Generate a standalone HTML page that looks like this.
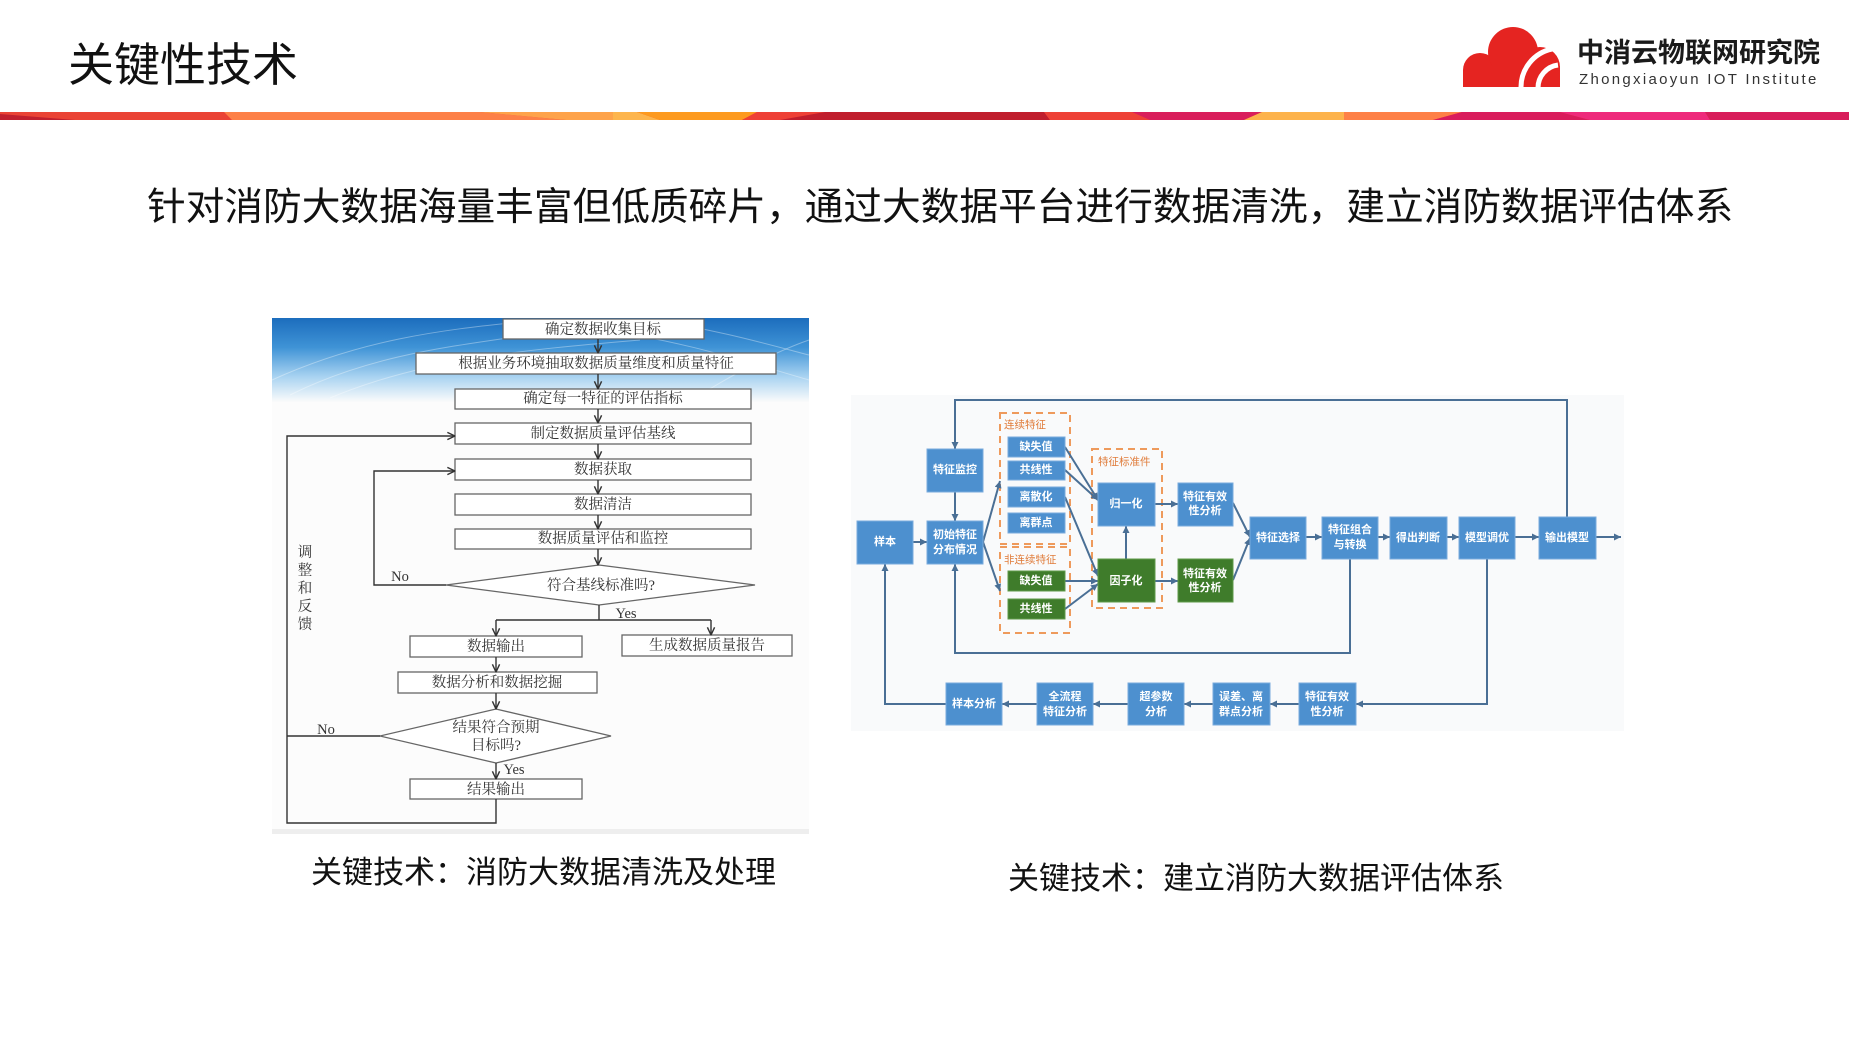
<!DOCTYPE html>
<html><head><meta charset="utf-8">
<style>
html,body{margin:0;padding:0;background:#fff;}
body{width:1849px;height:1039px;position:relative;overflow:hidden;font-family:"Liberation Sans","Noto Sans CJK SC",sans-serif;}
.t{position:absolute;white-space:nowrap;color:#111;font-family:"Liberation Sans","Noto Sans CJK SC",sans-serif;}
</style></head>
<body>
<svg width="1849" height="1039" viewBox="0 0 1849 1039" style="position:absolute;left:0;top:0" xmlns="http://www.w3.org/2000/svg">
<defs>
<linearGradient id="band" x1="0" y1="0" x2="0" y2="1">
<stop offset="0" stop-color="#1c6dbd"/>
<stop offset="0.35" stop-color="#3f93d6"/>
<stop offset="0.7" stop-color="#a9d3f1"/>
<stop offset="1" stop-color="#fbfbfb"/>
</linearGradient>
<marker id="la" viewBox="0 0 10 10" refX="9.5" refY="5" markerWidth="9" markerHeight="9" orient="auto" markerUnits="userSpaceOnUse">
<path d="M1,1 L9.5,5 L1,9" fill="none" stroke="#333" stroke-width="1.6"/>
</marker>
<marker id="ra" viewBox="0 0 10 10" refX="10" refY="5" markerWidth="7" markerHeight="7" orient="auto" markerUnits="userSpaceOnUse">
<path d="M0,0 L10,5 L0,10 z" fill="#4a6f95"/>
</marker>
</defs>

<!-- header color bar -->
<rect x="0" y="112" width="1849" height="8" fill="#ea4335"/>
<polygon points="0,114 0,120 75,120" fill="#c0202e"/>
<polygon points="224,112 480,112 566,120 232,120" fill="#fd8047"/>
<polygon points="480,112 613,112 613,120 566,120" fill="#fea34a"/>
<polygon points="613,112 637,112 660,120 613,120" fill="#fdb54d"/>
<polygon points="637,112 757,112 742,120 660,120" fill="#fd9a1f"/>
<polygon points="757,112 825,112 780,120 742,120" fill="#ee4036"/>
<polygon points="825,112 1044,112 1050,120 780,120" fill="#c01e2d"/>
<polygon points="1044,112 1132,112 1150,120 1050,120" fill="#ee4136"/>
<polygon points="1132,112 1262,112 1244,120 1150,120" fill="#d91e5b"/>
<polygon points="1262,112 1344,112 1344,120 1244,120" fill="#fdb34b"/>
<polygon points="1344,112 1462,112 1433,120 1344,120" fill="#fe8046"/>
<polygon points="1462,112 1560,112 1590,120 1433,120" fill="#d91c5c"/>
<polygon points="1560,112 1705,112 1710,120 1590,120" fill="#ee2a7b"/>
<polygon points="1705,112 1849,112 1849,120 1710,120" fill="#d81d5a"/>

<!-- logo cloud -->
<g fill="#e52421">
<circle cx="1480" cy="70" r="17"/>
<circle cx="1513" cy="52" r="25"/>
<circle cx="1540" cy="67" r="20"/>
<rect x="1480" y="66" width="80" height="21"/>
<rect x="1463" y="70" width="30" height="17"/>
</g>
<path d="M1521,88 A39,39 0 0 1 1552,49" fill="none" stroke="#fff" stroke-width="5"/>
<path d="M1538,88 A23,23 0 0 1 1558,65" fill="none" stroke="#fff" stroke-width="5"/>

<!-- ============ LEFT DIAGRAM ============ -->
<rect x="272" y="318" width="537" height="516" fill="#fcfcfc"/>
<rect x="272" y="318" width="537" height="84" fill="url(#band)"/>
<g fill="none" stroke="#ffffff" stroke-opacity="0.35" stroke-width="1">
<path d="M272,380 C360,340 440,330 520,322"/>
<path d="M290,395 C380,350 470,345 560,330"/>
<path d="M330,398 C420,360 520,350 640,340"/>
<path d="M600,330 C680,340 740,360 809,380"/>
<path d="M650,320 C720,330 770,345 809,355"/>
<path d="M700,395 C740,370 780,350 809,340"/>
</g>
<rect x="272" y="829" width="537" height="5" fill="#eeeeee"/>

<g fill="#fff" stroke="#666" stroke-width="1.3">
<rect x="503" y="319" width="201" height="20"/>
<rect x="416" y="353" width="360" height="21"/>
<rect x="455" y="389" width="296" height="20"/>
<rect x="455" y="423" width="296" height="21"/>
<rect x="455" y="459" width="296" height="21"/>
<rect x="455" y="494" width="296" height="21"/>
<rect x="455" y="529" width="296" height="20"/>
<polygon points="446,585 599,565 755,585 599,605"/>
<rect x="410" y="636" width="172" height="21"/>
<rect x="622" y="635" width="170" height="21"/>
<rect x="398" y="672" width="199" height="21"/>
<polygon points="380,736 496,709 611,736 496,763"/>
<rect x="410" y="779" width="172" height="20"/>
</g>

<g stroke="#333" stroke-width="1.4" fill="none">
<line x1="598" y1="339" x2="598" y2="353" marker-end="url(#la)"/>
<line x1="598" y1="374" x2="598" y2="389" marker-end="url(#la)"/>
<line x1="598" y1="409" x2="598" y2="423" marker-end="url(#la)"/>
<line x1="598" y1="444" x2="598" y2="459" marker-end="url(#la)"/>
<line x1="598" y1="480" x2="598" y2="494" marker-end="url(#la)"/>
<line x1="598" y1="515" x2="598" y2="529" marker-end="url(#la)"/>
<line x1="598" y1="549" x2="598" y2="565" marker-end="url(#la)"/>
<polyline points="446,585 374,585 374,471 455,471" marker-end="url(#la)"/>
<line x1="599" y1="605" x2="599" y2="620"/>
<line x1="496" y1="620" x2="711" y2="620"/>
<line x1="496" y1="620" x2="496" y2="636" marker-end="url(#la)"/>
<line x1="711" y1="620" x2="711" y2="635" marker-end="url(#la)"/>
<line x1="496" y1="657" x2="496" y2="672" marker-end="url(#la)"/>
<line x1="496" y1="693" x2="496" y2="709" marker-end="url(#la)"/>
<line x1="496" y1="763" x2="496" y2="779" marker-end="url(#la)"/>
<polyline points="496,799 496,823 287,823 287,436 455,436" marker-end="url(#la)"/>
<line x1="287" y1="736" x2="380" y2="736"/>
</g>

<g font-family="'Liberation Serif','Noto Serif CJK SC',serif" font-size="14.5" fill="#333" text-anchor="middle" dominant-baseline="central">
<text x="603" y="330">确定数据收集目标</text>
<text x="596" y="364">根据业务环境抽取数据质量维度和质量特征</text>
<text x="603" y="399">确定每一特征的评估指标</text>
<text x="603" y="434">制定数据质量评估基线</text>
<text x="603" y="470">数据获取</text>
<text x="603" y="505">数据清洁</text>
<text x="603" y="539">数据质量评估和监控</text>
<text x="601" y="586">符合基线标准吗?</text>
<text x="496" y="647">数据输出</text>
<text x="707" y="646">生成数据质量报告</text>
<text x="497" y="683">数据分析和数据挖掘</text>
<text x="496" y="728">结果符合预期</text>
<text x="496" y="746">目标吗?</text>
<text x="496" y="790">结果输出</text>
<text x="400" y="577">No</text>
<text x="326" y="730">No</text>
<text x="626" y="614">Yes</text>
<text x="514" y="770">Yes</text>
<text x="305" y="553">调</text>
<text x="305" y="571">整</text>
<text x="305" y="589">和</text>
<text x="305" y="607">反</text>
<text x="305" y="625">馈</text>
</g>

<!-- ============ RIGHT DIAGRAM ============ -->
<rect x="851" y="395" width="773" height="336" fill="#f9fafb"/>

<!-- orange dashed groups -->
<g fill="none" stroke="#ee9a5c" stroke-width="2" stroke-dasharray="7,5">
<rect x="1000" y="413" width="70" height="131"/>
<rect x="1000" y="547" width="70" height="86"/>
<rect x="1092" y="449" width="70" height="159"/>
</g>
<g font-family="'Liberation Sans','Noto Sans CJK SC',sans-serif" font-size="10.5" fill="#e07b39">
<text x="1004" y="428">连续特征</text>
<text x="1004" y="563">非连续特征</text>
<text x="1098" y="465">特征标准件</text>
</g>

<!-- connectors -->
<g stroke="#4a6f95" stroke-width="2" fill="none">
<polyline points="1567,517 1567,400 955,400 955,449" marker-end="url(#ra)"/>
<line x1="913" y1="542" x2="927" y2="542" marker-end="url(#ra)"/>
<line x1="955" y1="492" x2="955" y2="521" marker-end="url(#ra)"/>
<line x1="983" y1="542" x2="1000" y2="481" marker-end="url(#ra)"/>
<line x1="983" y1="542" x2="1000" y2="591" marker-end="url(#ra)"/>
<line x1="1065" y1="447" x2="1098" y2="500" marker-end="url(#ra)"/>
<line x1="1065" y1="470" x2="1098" y2="500" marker-end="url(#ra)"/>
<line x1="1065" y1="497" x2="1098" y2="576" marker-end="url(#ra)"/>
<line x1="1065" y1="581" x2="1098" y2="581" marker-end="url(#ra)"/>
<line x1="1065" y1="609" x2="1098" y2="584" marker-end="url(#ra)"/>
<line x1="1126" y1="559" x2="1126" y2="526" marker-end="url(#ra)"/>
<line x1="1155" y1="504" x2="1178" y2="504" marker-end="url(#ra)"/>
<line x1="1155" y1="581" x2="1178" y2="581" marker-end="url(#ra)"/>
<line x1="1233" y1="503" x2="1250" y2="537" marker-end="url(#ra)"/>
<line x1="1233" y1="580" x2="1250" y2="538" marker-end="url(#ra)"/>
<line x1="1306" y1="537" x2="1322" y2="537" marker-end="url(#ra)"/>
<line x1="1378" y1="537" x2="1390" y2="537" marker-end="url(#ra)"/>
<line x1="1447" y1="537" x2="1459" y2="537" marker-end="url(#ra)"/>
<line x1="1515" y1="537" x2="1539" y2="537" marker-end="url(#ra)"/>
<line x1="1596" y1="537" x2="1621" y2="537" marker-end="url(#ra)"/>
<polyline points="1350,559 1350,653 955,653 955,564" marker-end="url(#ra)"/>
<polyline points="1487,559 1487,704 1356,704" marker-end="url(#ra)"/>
<line x1="1299" y1="704" x2="1270" y2="704" marker-end="url(#ra)"/>
<line x1="1213" y1="704" x2="1184" y2="704" marker-end="url(#ra)"/>
<line x1="1128" y1="704" x2="1093" y2="704" marker-end="url(#ra)"/>
<line x1="1037" y1="704" x2="1002" y2="704" marker-end="url(#ra)"/>
<polyline points="946,704 885,704 885,564" marker-end="url(#ra)"/>
</g>

<!-- blue boxes -->
<g fill="#4d90cf" stroke="#79abdc" stroke-width="1">
<rect x="927" y="449" width="56" height="43"/>
<rect x="857" y="521" width="56" height="43"/>
<rect x="927" y="521" width="56" height="43"/>
<rect x="1008" y="437" width="57" height="20"/>
<rect x="1008" y="461" width="57" height="19"/>
<rect x="1008" y="487" width="57" height="20"/>
<rect x="1008" y="513" width="57" height="20"/>
<rect x="1098" y="483" width="57" height="43"/>
<rect x="1178" y="483" width="55" height="43"/>
<rect x="1250" y="517" width="56" height="42"/>
<rect x="1322" y="517" width="56" height="42"/>
<rect x="1390" y="517" width="57" height="42"/>
<rect x="1459" y="517" width="56" height="42"/>
<rect x="1539" y="517" width="57" height="42"/>
<rect x="946" y="683" width="56" height="42"/>
<rect x="1037" y="683" width="56" height="42"/>
<rect x="1128" y="683" width="56" height="42"/>
<rect x="1213" y="683" width="57" height="42"/>
<rect x="1299" y="683" width="57" height="42"/>
</g>
<!-- green boxes -->
<g fill="#3f7c2b" stroke="#5f9a48" stroke-width="1">
<rect x="1008" y="571" width="57" height="20"/>
<rect x="1008" y="599" width="57" height="20"/>
<rect x="1098" y="559" width="57" height="43"/>
<rect x="1178" y="559" width="55" height="43"/>
</g>

<g font-family="'Liberation Sans','Noto Sans CJK SC',sans-serif" font-size="11" font-weight="bold" fill="#ffffff" text-anchor="middle" dominant-baseline="central">
<text x="955" y="470">特征监控</text>
<text x="885" y="542">样本</text>
<text x="955" y="535">初始特征</text>
<text x="955" y="550">分布情况</text>
<text x="1036" y="447">缺失值</text>
<text x="1036" y="470">共线性</text>
<text x="1036" y="497">离散化</text>
<text x="1036" y="523">离群点</text>
<text x="1036" y="581">缺失值</text>
<text x="1036" y="609">共线性</text>
<text x="1126" y="504">归一化</text>
<text x="1126" y="581">因子化</text>
<text x="1205" y="497">特征有效</text>
<text x="1205" y="511">性分析</text>
<text x="1205" y="574">特征有效</text>
<text x="1205" y="588">性分析</text>
<text x="1278" y="538">特征选择</text>
<text x="1350" y="530">特征组合</text>
<text x="1350" y="545">与转换</text>
<text x="1418" y="538">得出判断</text>
<text x="1487" y="538">模型调优</text>
<text x="1567" y="538">输出模型</text>
<text x="974" y="704">样本分析</text>
<text x="1065" y="697">全流程</text>
<text x="1065" y="712">特征分析</text>
<text x="1156" y="697">超参数</text>
<text x="1156" y="712">分析</text>
<text x="1241" y="697">误差、离</text>
<text x="1241" y="712">群点分析</text>
<text x="1327" y="697">特征有效</text>
<text x="1327" y="712">性分析</text>
</g>
</svg>

<div class="t" style="left:68px;top:40px;font-size:46px;line-height:50px;">关键性技术</div>
<div class="t" style="left:1577px;top:38px;font-size:27px;line-height:30px;font-weight:bold;color:#1a1a1a;">中消云物联网研究院</div>
<div class="t" style="left:1579px;top:71px;font-size:15px;line-height:18px;letter-spacing:2.3px;color:#333;">Zhongxiaoyun IOT Institute</div>
<div class="t" style="left:147px;top:187px;font-size:38.7px;line-height:42px;">针对消防大数据海量丰富但低质碎片，通过大数据平台进行数据清洗，建立消防数据评估体系</div>
<div class="t" style="left:311px;top:855px;font-size:31px;line-height:36px;">关键技术：消防大数据清洗及处理</div>
<div class="t" style="left:1008px;top:861px;font-size:31px;line-height:36px;">关键技术：建立消防大数据评估体系</div>
</body></html>
